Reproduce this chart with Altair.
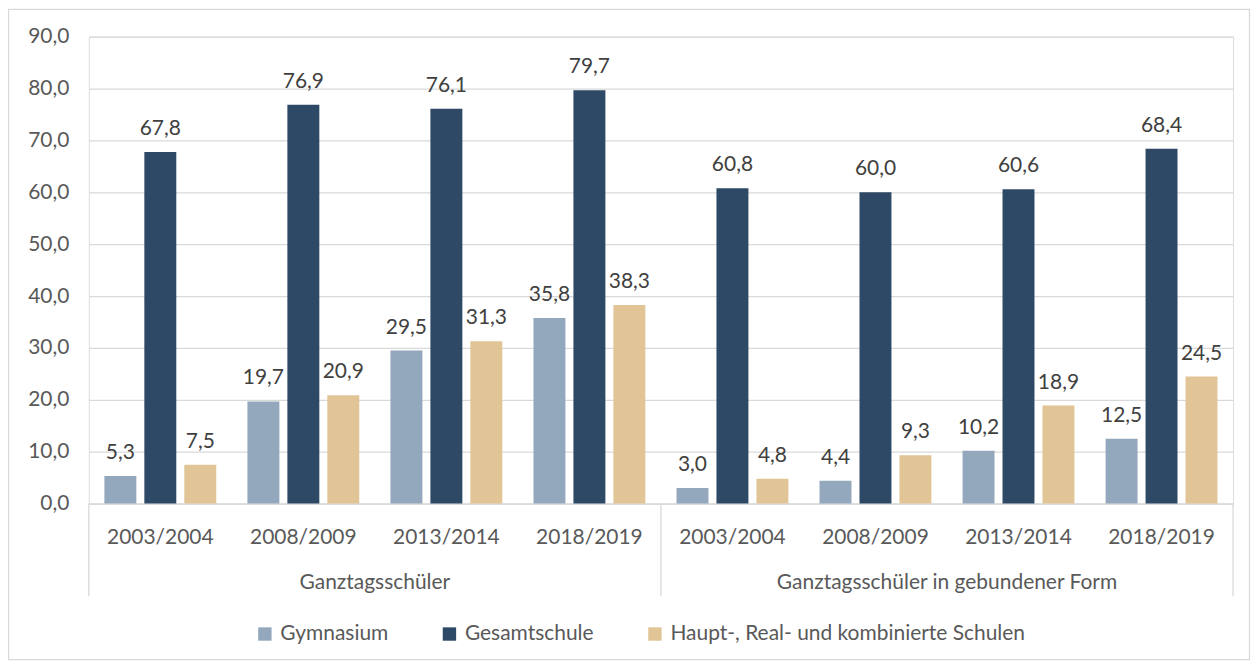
import altair as alt
import pandas as pd

groups = ["Ganztagsschüler", "Ganztagsschüler in gebundener Form"]
group_ids = ["G1", "G2"]
years = ["2003/2004", "2008/2009", "2013/2014", "2018/2019"]
schools = ["Gymnasium", "Gesamtschule", "Haupt-, Real- und kombinierte Schulen"]
colors = ["#94A8BD", "#2E4966", "#E1C596"]

gym_g1 = [5.3, 19.7, 29.5, 35.8]
ges_g1 = [67.8, 76.9, 76.1, 79.7]
hrk_g1 = [7.5, 20.9, 31.3, 38.3]
gym_g2 = [3.0, 4.4, 10.2, 12.5]
ges_g2 = [60.8, 60.0, 60.6, 68.4]
hrk_g2 = [4.8, 9.3, 18.9, 24.5]

series = {
    "G1": [gym_g1, ges_g1, hrk_g1],
    "G2": [gym_g2, ges_g2, hrk_g2],
}

keys = [f"{g}|{y}" for g in group_ids for y in years]
rows = []
for g in group_ids:
    for si, s in enumerate(schools):
        for yi, y in enumerate(years):
            v = series[g][si][yi]
            rows.append({"key": f"{g}|{y}", "school": s, "value": v,
                         "label": f"{v:.1f}".replace(".", ",")})
df = pd.DataFrame(rows)

FONT = "Lato"
TXT = "#595959"
GRID = "#D9D9D9"
W, H = 1147, 468

xscale = alt.Scale(domain=keys, paddingInner=0, paddingOuter=0)
xaxis = alt.Axis(title=None, labelExpr="split(datum.value, '|')[1]", ticks=False,
                 domainColor=GRID, domainWidth=1.3, labelFontSize=21, labelColor=TXT,
                 labelFont=FONT, labelPadding=23, grid=False, labelAngle=0)
xoff = alt.XOffset("school:N", sort=schools,
                   scale=alt.Scale(paddingInner=0.2, paddingOuter=0.39))
yscale = alt.Scale(domain=[0, 90], nice=False)
yaxis = alt.Axis(title=None, values=list(range(0, 91, 10)), ticks=False, domain=False,
                 gridColor=GRID, gridWidth=1.3, labelFontSize=21, labelColor=TXT,
                 labelFont=FONT, labelPadding=20,
                 labelExpr="replace(format(datum.value, '.1f'), '.', ',')")

base = alt.Chart(df)
bars = base.mark_bar().encode(
    x=alt.X("key:N", scale=xscale, axis=xaxis, sort=keys),
    xOffset=xoff,
    y=alt.Y("value:Q", scale=yscale, axis=yaxis),
    color=alt.Color("school:N", sort=schools,
                    scale=alt.Scale(domain=schools, range=colors),
                    legend=alt.Legend(title=None, orient="none", direction="horizontal",
                                      legendX=166, legendY=588,
                                      symbolType="square", symbolSize=180,
                                      symbolStrokeWidth=0, labelFontSize=21,
                                      labelFont=FONT, labelColor=TXT, labelLimit=0,
                                      columnPadding=50, labelOffset=5)),
)
labels = base.mark_text(baseline="middle", dy=-23, fontSize=21, font=FONT,
                        color="#404040").encode(
    x=alt.X("key:N", scale=xscale, sort=keys),
    xOffset=xoff,
    y=alt.Y("value:Q", scale=yscale),
    text="label:N",
)

sep_df = pd.DataFrame({"key": [f"{g}|{years[0]}" for g in group_ids]})
end_df = pd.DataFrame({"key": [f"{group_ids[-1]}|{years[-1]}"]})
seps = alt.Chart(sep_df).mark_rule(color=GRID, strokeWidth=1.3).encode(
    x=alt.X("key:N", scale=xscale, sort=keys, bandPosition=0),
    y=alt.value(H), y2=alt.value(H + 93),
)
seps_end = alt.Chart(end_df).mark_rule(color=GRID, strokeWidth=1.3).encode(
    x=alt.X("key:N", scale=xscale, sort=keys, bandPosition=1),
    y=alt.value(H), y2=alt.value(H + 93),
)

grp_df = pd.DataFrame({"key": [f"{g}|{years[1]}" for g in group_ids], "label": groups})
grp_text = alt.Chart(grp_df).mark_text(fontSize=21, font=FONT, color=TXT,
                                       baseline="middle").encode(
    x=alt.X("key:N", scale=xscale, sort=keys, bandPosition=1),
    y=alt.value(H + 80),
    text="label:N",
)

frame = alt.Chart(pd.DataFrame({"a": [0]})).mark_rect(
    filled=False, stroke=GRID, strokeWidth=1.3).encode(
    x=alt.value(-80.5), x2=alt.value(1163.5), y=alt.value(-27.5), y2=alt.value(624.5)
)

chart = alt.layer(frame, bars, labels, seps, seps_end, grp_text).properties(
    width=W, height=H,
    autosize=alt.AutoSizeParams(type="none"),
    padding={"left": 81, "top": 28, "right": 18, "bottom": 158},
).configure_view(stroke=None).configure(background="white")

chart.save("out.html", embed_options={"renderer": "svg", "actions": False})
